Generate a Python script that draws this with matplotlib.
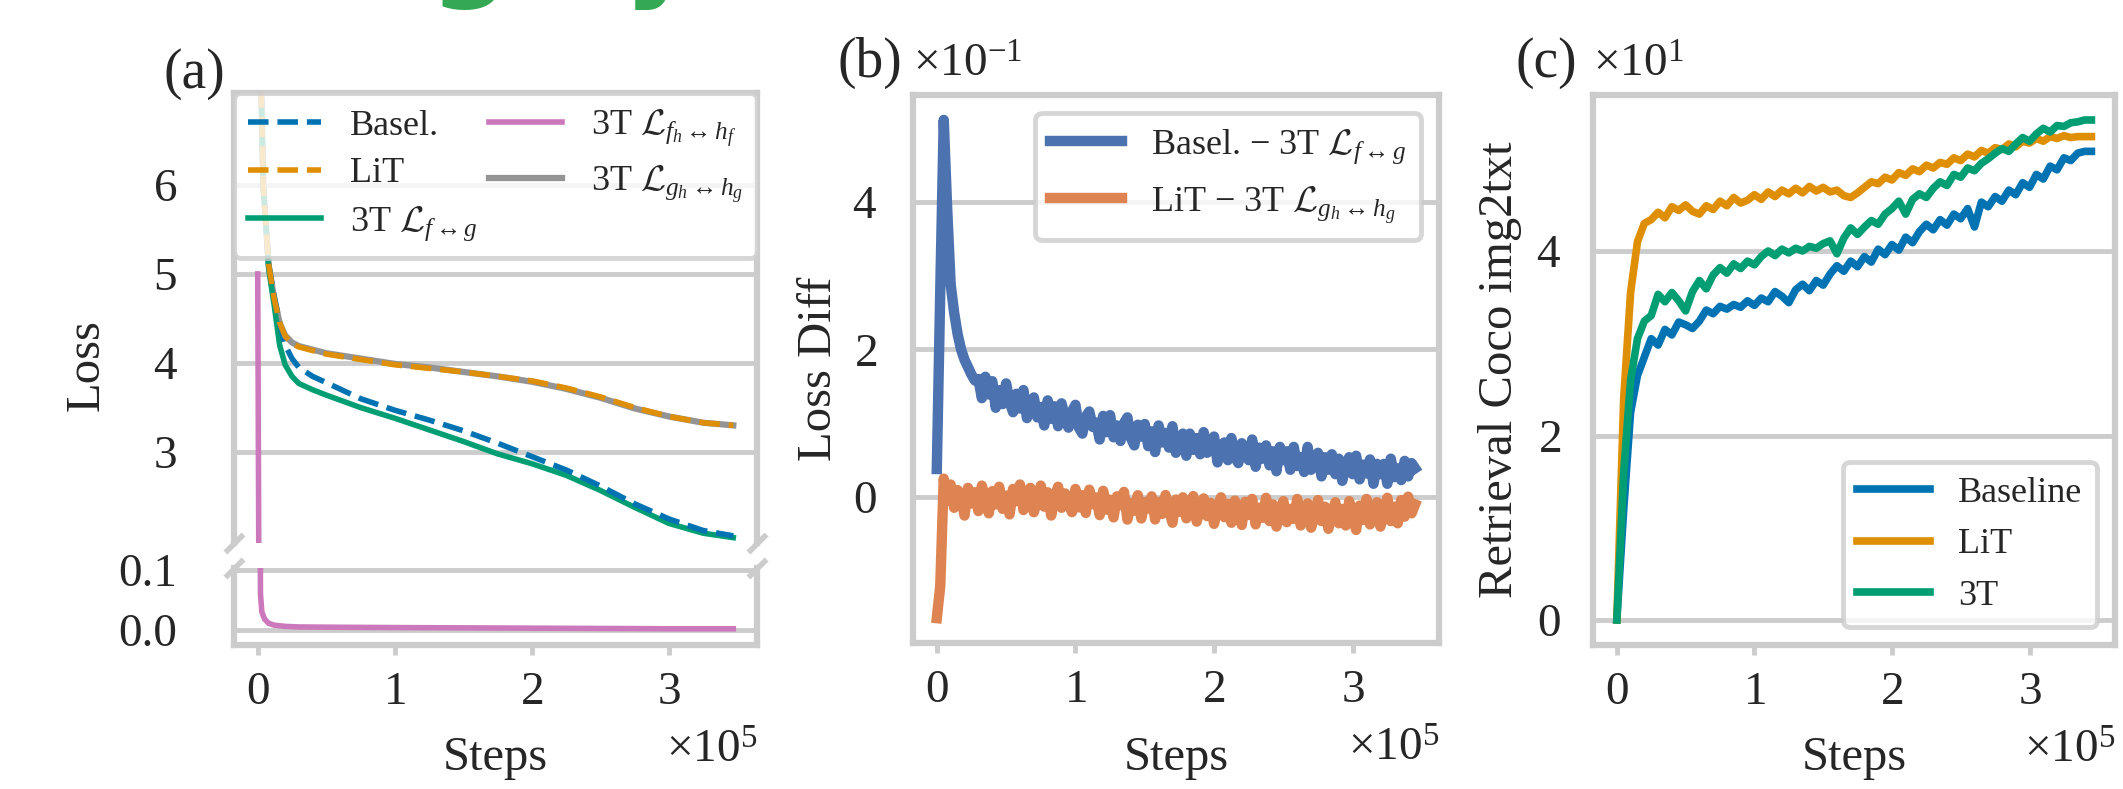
import numpy as np
import matplotlib
matplotlib.use("Agg")
import matplotlib.pyplot as plt

# ---------------- data ----------------
# (a) loss curves (steps, loss)
loss_steps = [0, 4000, 8000, 12000, 16000, 20000, 25000, 30000, 40000, 50000, 75000,
              100000, 125000, 150000, 175000, 200000, 225000, 250000, 275000, 300000,
              325000, 347000]
loss_basel = [9.0, 6.0, 5.1, 4.75, 4.45, 4.2, 4.05, 3.95, 3.85, 3.78, 3.6,
              3.47, 3.36, 3.24, 3.1, 2.95, 2.8, 2.62, 2.42, 2.25, 2.12, 2.06]
loss_lit = [9.0, 6.0, 5.1, 4.72, 4.45, 4.3, 4.22, 4.18, 4.14, 4.1, 4.04,
            3.98, 3.94, 3.9, 3.85, 3.8, 3.72, 3.62, 3.5, 3.4, 3.33, 3.3]
loss_3t_fg = [9.0, 6.0, 5.05, 4.65, 4.2, 3.98, 3.85, 3.77, 3.7, 3.64, 3.5,
              3.38, 3.25, 3.12, 2.98, 2.87, 2.74, 2.57, 2.38, 2.2, 2.09, 2.04]
loss_3t_gh = [9.0, 6.0, 5.1, 4.72, 4.45, 4.31, 4.23, 4.19, 4.15, 4.11, 4.05,
              3.99, 3.95, 3.9, 3.85, 3.79, 3.71, 3.61, 3.49, 3.4, 3.33, 3.3]
head_steps = [0, 1000, 2000, 3000, 5000, 8000, 12000, 20000, 30000, 60000, 100000,
              150000, 200000, 250000, 300000, 347000]
loss_3t_fh = [5.0, 0.9, 0.06, 0.03, 0.018, 0.011, 0.008, 0.006, 0.005, 0.0045, 0.004,
              0.0035, 0.003, 0.0025, 0.002, 0.002]

# (b) loss differences, logged every 2500 steps
diff_basel = [0.038, 0.280, 0.511, 0.390, 0.288, 0.250, 0.221, 0.200, 0.186, 0.176, 0.166, 0.158,
              0.160, 0.134, 0.163, 0.139, 0.157, 0.121, 0.145, 0.126, 0.154, 0.129,
              0.115, 0.140, 0.120, 0.145, 0.107, 0.128, 0.135, 0.108, 0.122, 0.097,
              0.131, 0.106, 0.123, 0.096, 0.127, 0.107, 0.094, 0.116, 0.125, 0.094,
              0.086, 0.109, 0.116, 0.095, 0.101, 0.078, 0.110, 0.088, 0.111, 0.081,
              0.097, 0.076, 0.100, 0.108, 0.080, 0.070, 0.098, 0.082, 0.099, 0.069,
              0.089, 0.061, 0.097, 0.074, 0.087, 0.067, 0.096, 0.060, 0.076, 0.086,
              0.056, 0.086, 0.064, 0.080, 0.058, 0.088, 0.060, 0.064, 0.082, 0.047,
              0.070, 0.074, 0.050, 0.080, 0.055, 0.046, 0.073, 0.063, 0.050, 0.078,
              0.041, 0.067, 0.052, 0.070, 0.043, 0.062, 0.035, 0.068, 0.050, 0.062,
              0.037, 0.068, 0.042, 0.054, 0.034, 0.068, 0.037, 0.049, 0.060, 0.028,
              0.054, 0.037, 0.058, 0.031, 0.052, 0.022, 0.044, 0.054, 0.031, 0.056,
              0.024, 0.044, 0.032, 0.051, 0.018, 0.045, 0.031, 0.045, 0.018, 0.052,
              0.027, 0.039, 0.023, 0.049, 0.028, 0.046, 0.039]
diff_lit = [-0.164, -0.120, 0.025, -0.005,
            0.0170, -0.0145, 0.0095, -0.0010, -0.0250, 0.0125, -0.0085, 0.0065, -0.0190,
            0.0155, -0.0025, -0.0220, 0.0080, -0.0100, 0.0140, -0.0160, 0.0020, -0.0235,
            0.0110, -0.0055, 0.0170, -0.0175, 0.0005, 0.0125, -0.0205, -0.0040, 0.0155,
            -0.0130, 0.0065, -0.0250, -0.0010, 0.0140, -0.0145, 0.0050, -0.0085, -0.0205,
            0.0110,
            -0.0140, 0.0025, -0.0215, 0.0100, -0.0095, -0.0005, -0.0245, 0.0085, -0.0170,
            -0.0035, -0.0275, 0.0010, -0.0110, 0.0070, -0.0305, -0.0080, -0.0185, 0.0025,
            -0.0290, -0.0065, -0.0155, 0.0010,
            -0.0303, -0.0063, -0.0228, 0.0028, -0.0168, -0.0348, -0.0033, -0.0198, -0.0003,
            -0.0288, -0.0108, 0.0013, -0.0333, -0.0153, -0.0018, -0.0258, -0.0078, -0.0363,
            -0.0138, -0.0003, -0.0273, -0.0093, -0.0348, -0.0048, -0.0213, -0.0378, -0.0063,
            -0.0243,
            -0.0025, -0.0370, -0.0145, -0.0280, -0.0010, -0.0325, -0.0100, -0.0400, -0.0190,
            -0.0055, -0.0340, -0.0160, -0.0295, -0.0025, -0.0385, -0.0205, -0.0085, -0.0415,
            -0.0250, -0.0040, -0.0325, -0.0130, -0.0430, -0.0220, -0.0070, -0.0355,
            -0.0160, -0.0385, -0.0055, -0.0280, -0.0445, -0.0115, -0.0310, -0.0025, -0.0370,
            -0.0190, -0.0070, -0.0400, -0.0235, -0.0010, -0.0325, -0.0130, -0.0355, -0.0040,
            -0.0265, 0.0005, -0.0220, -0.0100]
diff_steps = np.arange(len(diff_basel)) * 2500

# (c) retrieval coco img2txt, evaluated every 5000 steps
ret_baseline = [0.0, 12.0, 22.5, 26.5, 28.5, 30.5, 29.8, 31.5, 30.9, 32.3,
                32.0, 31.6, 32.4, 33.6, 33.2, 34.0, 33.7, 34.2, 33.9, 34.6,
                34.1, 34.9, 34.5, 35.6, 35.1, 34.4, 35.8, 36.4, 35.7, 36.8,
                36.3, 37.5, 38.4, 37.8, 38.9, 38.3, 39.4, 38.8, 40.2, 39.6,
                40.7, 40.1, 41.5, 40.9, 42.1, 42.9, 42.3, 43.4, 42.8, 44.0,
                43.5, 44.6, 42.6, 45.3, 44.8, 45.9, 45.4, 46.6, 46.1, 47.4,
                46.9, 48.3, 47.8, 49.2, 48.8, 50.1, 49.8, 50.6, 50.8, 50.8]
ret_lit = [0.0, 24.0, 35.5, 41.0, 43.0, 43.4, 44.2, 43.6, 44.8, 44.4,
           45.0, 44.3, 44.0, 44.9, 44.5, 45.4, 44.9, 45.8, 45.2, 45.5,
           46.1, 45.6, 46.4, 45.9, 46.6, 46.2, 46.8, 46.3, 47.0, 46.5,
           46.9, 46.4, 46.6, 46.0, 45.8, 46.3, 46.9, 47.5, 47.3, 48.0,
           47.7, 48.5, 48.2, 48.9, 48.6, 49.3, 49.0, 49.6, 49.4, 50.1,
           49.8, 50.5, 50.2, 50.9, 50.6, 51.2, 51.0, 51.6, 51.3, 51.9,
           51.7, 52.2, 51.9, 52.4, 52.2, 52.5, 52.3, 52.4, 52.4, 52.4]
ret_3t = [0.0, 16.0, 26.0, 30.5, 32.4, 33.0, 35.3, 34.5, 35.5, 34.6,
          33.5, 35.6, 36.8, 35.9, 37.4, 38.2, 37.6, 38.6, 38.1, 38.9,
          38.5, 39.4, 40.0, 39.5, 40.2, 39.8, 40.3, 40.0, 40.5, 40.3,
          40.8, 41.1, 39.7, 41.4, 42.5, 41.8, 42.6, 43.3, 42.9, 44.0,
          44.6, 45.4, 44.0, 45.6, 46.2, 45.8, 46.8, 47.5, 47.1, 48.3,
          48.0, 49.0, 48.7, 49.5, 50.0, 50.6, 51.1, 50.8, 51.6, 52.3,
          51.9, 52.7, 53.3, 52.9, 53.6, 53.5, 53.9, 54.0, 54.2, 54.2]
ret_steps = np.arange(len(ret_baseline)) * 5000

# colours (seaborn colorblind / deep)
c_blue, c_orange, c_green = '#0173b2', '#de8f05', '#029e73'
c_pink, c_gray = '#cc78bc', '#949494'
d_blue, d_orange = '#4c72b0', '#dd8452'

plt.rcParams.update({
    'font.family': ['Liberation Serif', 'DejaVu Serif'],
    'mathtext.fontset': 'custom',
    'mathtext.rm': 'Liberation Serif',
    'mathtext.it': 'Liberation Serif:italic',
    'mathtext.bf': 'Liberation Serif:bold',
    'mathtext.cal': 'cmsy10',
    'font.size': 34,
    'text.color': '#262626',
    'axes.edgecolor': '#cccccc',
    'axes.linewidth': 4.5,
    'axes.labelcolor': '#262626',
    'axes.labelsize': 35,
    'grid.color': '#cccccc',
    'grid.linewidth': 3.5,
    'xtick.color': '#cccccc',
    'xtick.labelcolor': '#262626',
    'ytick.labelcolor': '#262626',
    'xtick.labelsize': 34,
    'ytick.labelsize': 34,
    'xtick.major.size': 7,
    'xtick.major.width': 3.5,
    'xtick.major.pad': 12,
    'ytick.major.size': 0,
    'legend.fontsize': 26,
    'legend.edgecolor': '#cccccc',
    'legend.framealpha': 0.8,
})

fig = plt.figure(figsize=(21.23, 7.89), dpi=100)

# bottoms of a cropped green page heading above the figure
fig.text(0.2214, 1.0177, 'g', color='#34a853', fontsize=81, fontweight='bold',
         family='DejaVu Sans', ha='center', va='baseline')
fig.text(0.311, 1.0177, 'y', color='#34a853', fontsize=81, fontweight='bold',
         family='DejaVu Sans', ha='center', va='baseline')


def style(ax, ypad):
    ax.grid(axis='y')
    ax.grid(axis='x', visible=False)
    ax.set_axisbelow(True)
    ax.tick_params(axis='y', pad=ypad)


def frame_legend(leg):
    leg.get_frame().set_linewidth(3.5)
    leg.get_frame().set_edgecolor('#cccccc')


# ---------------- (a) broken axis ----------------
ax_top = fig.add_axes([0.1102, 0.3118, 0.2464, 0.5703])
ax_bot = fig.add_axes([0.1102, 0.1825, 0.2464, 0.0976], sharex=ax_top)

h_gh, = ax_top.plot(loss_steps, loss_3t_gh, color=c_gray, lw=4.5, zorder=2)
h_fg, = ax_top.plot(loss_steps, loss_3t_fg, color=c_green, lw=4, zorder=2)
h_fh, = ax_top.plot(head_steps, loss_3t_fh, color=c_pink, lw=4, zorder=2)
h_basel, = ax_top.plot(loss_steps, loss_basel, '--', color=c_blue, lw=4, zorder=3)
h_lit, = ax_top.plot(loss_steps, loss_lit, '--', color=c_orange, lw=4, zorder=3)
ax_bot.plot(head_steps, loss_3t_fh, color=c_pink, lw=4)

ax_top.set_ylim(1.98, 7.03)
ax_top.set_yticks([3, 4, 5, 6])
ax_bot.set_ylim(-0.025, 0.103)
ax_bot.set_yticks([0.0, 0.1])
ax_bot.yaxis.set_major_formatter(matplotlib.ticker.FormatStrFormatter('%.1f'))
ax_bot.set_xticks([0, 100000, 200000, 300000])
ax_bot.ticklabel_format(axis='x', style='sci', scilimits=(0, 0), useMathText=True)
ax_bot.xaxis.OFFSETTEXTPAD = 12

ax_top.spines['bottom'].set_visible(False)
ax_bot.spines['top'].set_visible(False)
ax_top.tick_params(axis='x', bottom=False, labelbottom=False)
for ax in (ax_top, ax_bot):
    style(ax, 41)

brk = dict(marker=[(-1, -1), (1, 1)], markersize=13, linestyle='none',
           color='#cccccc', mec='#cccccc', mew=4, clip_on=False)
ax_top.plot([0, 1], [0, 0], transform=ax_top.transAxes, **brk)
ax_bot.plot([0, 1], [1, 1], transform=ax_bot.transAxes, **brk)

ax_top.set_ylabel('Loss')
ax_top.yaxis.set_label_coords(-0.239, 0.396)
ax_bot.set_xlabel('Steps')
ax_bot.xaxis.set_label_coords(0.5, -1.18)

leg_a = ax_top.legend([h_basel, h_lit, h_fg, h_fh, h_gh],
                      ['Basel.', 'LiT', r'3T $\mathcal{L}_{f\leftrightarrow g}$',
                       r'3T $\mathcal{L}_{f_h\leftrightarrow h_f}$',
                       r'3T $\mathcal{L}_{g_h\leftrightarrow h_g}$'],
                      loc='upper left', bbox_to_anchor=(0, 0, 1, 1), mode='expand',
                      ncol=2, borderaxespad=0, handlelength=2.0, labelspacing=0.4)
frame_legend(leg_a)
ax_top.text(-0.017, 1.012, '(a)', transform=ax_top.transAxes, ha='right',
            va='baseline', fontsize=40)

# ---------------- (b) ----------------
ax_b = fig.add_axes([0.4300, 0.1850, 0.2478, 0.6946])
ax_b.plot(diff_steps, diff_basel, color=d_blue, lw=7.5,
          label=r'Basel. $-$ 3T $\mathcal{L}_{f\leftrightarrow g}$')
ax_b.plot(diff_steps, diff_lit, color=d_orange, lw=7.5,
          label=r'LiT $-$ 3T $\mathcal{L}_{g_h\leftrightarrow h_g}$')
ax_b.set_xticks([0, 100000, 200000, 300000])
ax_b.set_yticks([0, 0.2, 0.4])
ax_b.ticklabel_format(axis='both', style='sci', scilimits=(0, 0), useMathText=True)
ax_b.xaxis.OFFSETTEXTPAD = 12
ax_b.yaxis.OFFSETTEXTPAD = 13
style(ax_b, 26)
ax_b.set_ylabel('Loss Diff')
ax_b.yaxis.set_label_coords(-0.137, 0.5)
ax_b.set_xlabel('Steps')
ax_b.xaxis.set_label_coords(0.5, -0.170)
frame_legend(ax_b.legend(loc='upper right'))
ax_b.text(-0.021, 1.033, '(b)', transform=ax_b.transAxes, ha='right',
          va='baseline', fontsize=40)

# ---------------- (c) ----------------
ax_c = fig.add_axes([0.7504, 0.1825, 0.2459, 0.6971])
ax_c.plot(ret_steps, ret_baseline, color=c_blue, lw=5.5, label='Baseline')
ax_c.plot(ret_steps, ret_lit, color=c_orange, lw=5.5, label='LiT')
ax_c.plot(ret_steps, ret_3t, color=c_green, lw=5.5, label='3T')
ax_c.set_xticks([0, 100000, 200000, 300000])
ax_c.set_yticks([0, 20, 40])
ax_c.ticklabel_format(axis='both', style='sci', scilimits=(0, 0), useMathText=True)
ax_c.xaxis.OFFSETTEXTPAD = 12
ax_c.yaxis.OFFSETTEXTPAD = 13
style(ax_c, 23)
ax_c.set_ylabel('Retrieval Coco img2txt')
ax_c.yaxis.set_label_coords(-0.136, 0.5)
ax_c.set_xlabel('Steps')
ax_c.xaxis.set_label_coords(0.5, -0.165)
frame_legend(ax_c.legend(loc='lower right'))
ax_c.text(-0.031, 1.033, '(c)', transform=ax_c.transAxes, ha='right',
          va='baseline', fontsize=40)

fig.savefig('out.png', dpi=100)
